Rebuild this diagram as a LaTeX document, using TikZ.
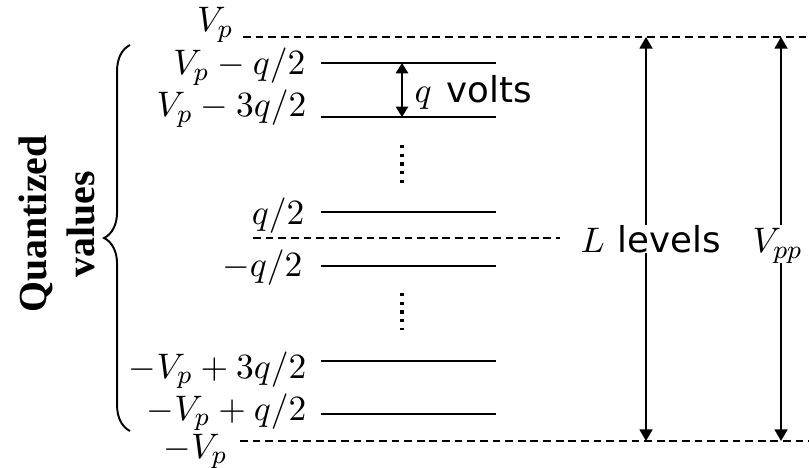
\documentclass[tikz,border=0pt]{standalone}
\usepackage{fontspec}
\newfontfamily\dvs{DejaVu Sans}
\newfontfamily\tnr{Liberation Serif}
\usetikzlibrary{arrows.meta,decorations.pathreplacing}
\begin{document}
\begin{tikzpicture}[x=0.3088pt,y=-0.3088pt,
  lbl/.style={anchor=base east,inner sep=0pt,font=\fontsize{11}{13}\selectfont},
  dashln/.style={line width=0.55pt,dash pattern=on 2.4pt off 1.5pt},
  lvl/.style={line width=0.5pt},
  arr/.style={line width=0.6pt,-{Triangle[length=3.6pt,width=4pt]}},
  dotsln/.style={line width=1pt,dash pattern=on 1pt off 1.7pt},
  sanslbl/.style={inner sep=0pt,anchor=base west,font=\fontsize{11}{13}\selectfont}]
\useasboundingbox (0,0) rectangle (809,468);

% level labels
\node[lbl] (vp)   at (234,32)  {$V_p$};
\node[lbl] (l1)   at (306,75)  {$V_p-q/2$};
\node[lbl] (l2)   at (307,117) {$V_p-3q/2$};
\node[lbl] (l3)   at (305,225) {$q/2$};
\node[lbl] (l4)   at (303,277) {$-q/2$};
\node[lbl] (l5)   at (307,378) {$-V_p+3q/2$};
\node[lbl] (l6)   at (307,420) {$-V_p+q/2$};
\node[lbl] (mvp)  at (228,458) {$-V_p$};

% dashed reference lines
\coordinate (t0) at (243,37);  \coordinate (t1) at (809,37);
\coordinate (z0) at (253,238); \coordinate (z1) at (560,238);
\coordinate (b0) at (240,441); \coordinate (b1) at (809,441);
\draw[dashln] (t0) -- (t1);
\draw[dashln] (z0) -- (z1);
\draw[dashln] (b0) -- (b1);

% level lines
\foreach \n/\y in {1/63,2/117,3/212,4/266,5/361,6/414}{
  \coordinate (a\n) at (321,\y);
  \coordinate (e\n) at (496,\y);
  \draw[lvl] (a\n) -- (e\n);
}

% q arrow
\coordinate (qa) at (402,63); \coordinate (qb) at (402,117);
\draw[line width=0.6pt,{Triangle[length=3.2pt,width=3.8pt]}-{Triangle[length=3.2pt,width=3.8pt]}] (qa) -- (qb);
\node[sanslbl] (qv) at (414,103) {$q$\hskip 4.5pt{\dvs volts}};

% vertical dots
\coordinate (d1a) at (402,145); \coordinate (d1b) at (402,183);
\coordinate (d2a) at (402,293); \coordinate (d2b) at (402,330);
\draw[dotsln] (d1a) -- (d1b);
\draw[dotsln] (d2a) -- (d2b);

% L levels
\node[sanslbl] (Ll) at (580,253) {$L$\hskip 4pt{\dvs levels}};
\coordinate (La) at (646,225); \coordinate (Lb) at (646,253);
\draw[arr] (La) -- (La |- t1);
\draw[arr] (Lb) -- (Lb |- b1);

% Vpp
\node[sanslbl] (Vpp) at (752,253) {$V_{pp}$};
\coordinate (Va) at (781,225); \coordinate (Vb) at (781,263);
\draw[arr] (Va) -- (Va |- t1);
\draw[arr] (Vb) -- (Vb |- b1);

% brace and label
\coordinate (br0) at (130,431); \coordinate (br1) at (130,45);
\draw[line width=0.6pt,decorate,decoration={brace,amplitude=8pt}] (br0) -- (br1);
\node[rotate=90,align=center,inner sep=0pt,font=\tnr\bfseries\fontsize{12.3}{14.8}\selectfont] (qvals) at (57,224) {Quantized\\values};
\end{tikzpicture}
\end{document}
